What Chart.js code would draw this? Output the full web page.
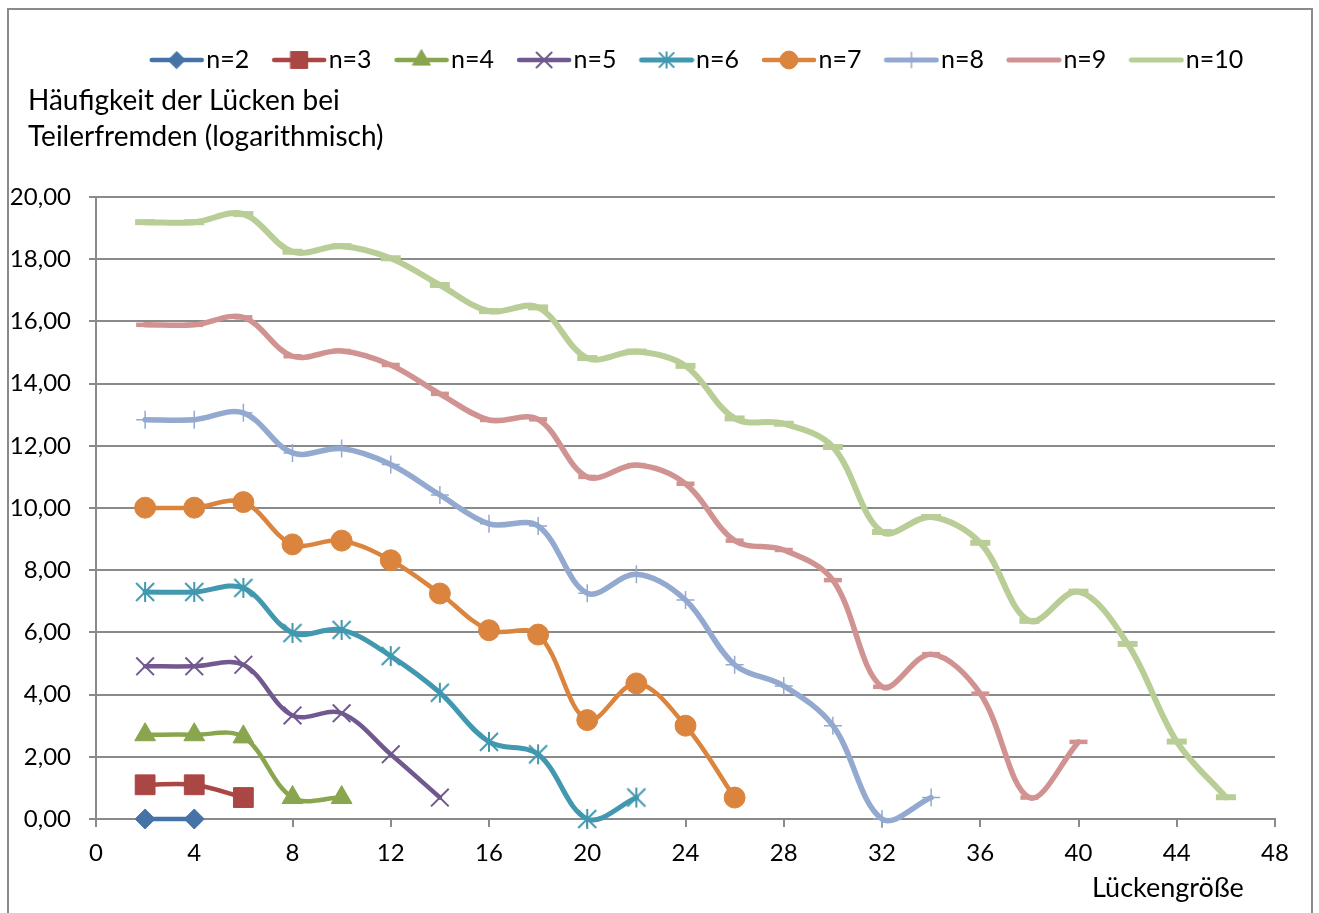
<!DOCTYPE html>
<html>
<head>
<meta charset="utf-8">
<script src="https://cdn.jsdelivr.net/npm/chart.js@4.4.0/dist/chart.umd.min.js"></script>
<style>
html,body{margin:0;padding:0;background:#fff;}
#wrap{width:1319px;height:913px;position:relative;overflow:hidden;}
canvas{display:block;}
</style>
</head>
<body>
<div id="wrap"><canvas id="c" width="1319" height="913"></canvas></div>
<script>
// ---- data ----
const gaps = [2,4,6,8,10,12,14,16,18,20,22,24,26,28,30,32,34,36,38,40,42,44,46];
const seriesLabels = ['n=2','n=3','n=4','n=5','n=6','n=7','n=8','n=9','n=10'];
const n2  = [0.00, 0.00];
const n3  = [1.10, 1.10, 0.69];
const n4  = [2.71, 2.71, 2.64, 0.69, 0.69];
const n5  = [4.91, 4.91, 4.96, 3.33, 3.40, 2.08, 0.69];
const n6  = [7.30, 7.30, 7.43, 5.98, 6.08, 5.24, 4.06, 2.48, 2.08, 0.00, 0.69];
const n7  = [10.01, 10.01, 10.19, 8.83, 8.95, 8.32, 7.25, 6.07, 5.93, 3.18, 4.36, 3.00, 0.69];
const n8  = [12.84, 12.84, 13.06, 11.77, 11.91, 11.40, 10.42, 9.49, 9.42, 7.26, 7.87, 7.04, 4.96, 4.28, 3.00, 0.00, 0.69];
const n9  = [15.89, 15.89, 16.13, 14.88, 15.05, 14.60, 13.67, 12.83, 12.85, 11.00, 11.38, 10.78, 8.95, 8.65, 7.68, 4.25, 5.30, 4.03, 0.69, 2.48];
const n10 = [19.19, 19.19, 19.45, 18.24, 18.42, 18.03, 17.17, 16.33, 16.45, 14.82, 15.03, 14.57, 12.88, 12.71, 11.96, 9.23, 9.71, 8.88, 6.37, 7.31, 5.63, 2.49, 0.70];
const seriesValues = [n2, n3, n4, n5, n6, n7, n8, n9, n10];
const xTickValues = [0,4,8,12,16,20,24,28,32,36,40,44,48];
const yTickValues = [0,2,4,6,8,10,12,14,16,18,20];
const yAxisTitle = ['Häufigkeit der Lücken bei', 'Teilerfremden (logarithmisch)'];
const xAxisTitle = 'Lückengröße';

// ---- styles ----
const colors = ['#4572A7','#AA4643','#89A54E','#71588F','#4198AF','#DB843D','#93A9CF','#D19392','#B9CD96'];
const lineW  = [4.5, 4.5, 4.5, 4.5, 5, 4.5, 5.5, 5.5, 6];
const FONT = 'Lato, "Open Sans", sans-serif';

function makeAsterisk(color, s) {
  const c = document.createElement('canvas');
  c.width = 26; c.height = 26;
  const g = c.getContext('2d');
  g.strokeStyle = color; g.lineWidth = 2;
  const m = 13, d = 9 * s, v = 10 * s;
  g.beginPath();
  g.moveTo(m - d, m - d); g.lineTo(m + d, m + d);
  g.moveTo(m + d, m - d); g.lineTo(m - d, m + d);
  g.moveTo(m, m - v); g.lineTo(m, m + v);
  g.stroke();
  return c;
}
const pStyles = ['rectRot','rect','triangle','crossRot', makeAsterisk(colors[4], 1),'circle','cross','line','line'];
const pRadius = [10, 14, 12, 12.5, 10, 10.5, 9, 9, 10];
const pBorder = [1, 1, 1, 2, 2, 1, 1.5, 4.5, 6];

function drawMarker(g, i, x, y, scale) {
  const st = pStyles[i];
  g.fillStyle = colors[i]; g.strokeStyle = colors[i]; g.lineWidth = pBorder[i];
  if (typeof st !== 'string') {
    const a = makeAsterisk(colors[i], scale);
    g.drawImage(a, x - 13, y - 13);
    return;
  }
  if (Chart.helpers && Chart.helpers.drawPoint) {
    Chart.helpers.drawPoint(g, {pointStyle: st, radius: pRadius[i] * scale, borderWidth: pBorder[i], rotation: 0}, x, y);
  }
}

const LEG_BOX = 66, LEG_W = 88;
function legendImage(i) {
  const W = LEG_W, H = 28;
  const c = document.createElement('canvas');
  c.width = W; c.height = H;
  const g = c.getContext('2d');
  g.strokeStyle = colors[i]; g.lineWidth = Math.min(lineW[i], 5); g.lineCap = 'round';
  g.beginPath(); g.moveTo(W - 56 + 3, H / 2); g.lineTo(W - 3, H / 2); g.stroke();
  if (i < 7) drawMarker(g, i, W - 28, H / 2, 0.85);
  return c;
}

const frame = {
  id: 'frame',
  afterLayout(chart) {
    if (chart.titleBlock) chart.titleBlock.left = 28;
  },
  beforeDraw(chart) {
    const g = chart.ctx;
    g.save();
    g.strokeStyle = '#8a8a8a'; g.lineWidth = 2;
    g.strokeRect(8, 9, 1304, 1000);
    g.restore();
  },
  afterDraw(chart) {
    const g = chart.ctx;
    g.save();
    g.fillStyle = '#000';
    g.font = '27px ' + FONT;
    g.textBaseline = 'middle';
    g.textAlign = 'left';
    g.fillText(xAxisTitle, 1092, 888);
    g.restore();
  }
};

const legendImgs = seriesLabels.map((_, i) => legendImage(i));

new Chart(document.getElementById('c'), {
  type: 'line',
  data: {
    datasets: seriesValues.map((vals, i) => ({
      label: seriesLabels[i],
      data: vals.map((v, j) => ({x: gaps[j], y: v})),
      borderColor: colors[i],
      backgroundColor: colors[i],
      borderWidth: lineW[i],
      pointStyle: pStyles[i],
      pointRadius: pRadius[i],
      pointBorderWidth: pBorder[i],
      pointBackgroundColor: colors[i],
      pointBorderColor: colors[i],
      tension: 0.35,
      clip: false,
      borderJoinStyle: 'round',
      borderCapStyle: 'round'
    }))
  },
  options: {
    responsive: false,
    animation: false,
    events: [],
    devicePixelRatio: 1,
    elements: { line: { capBezierPoints: false } },
    layout: { padding: { left: 0, right: 44, top: 46.5, bottom: 0 } },
    plugins: {
      tooltip: { enabled: false },
      legend: {
        position: 'top',
        fullSize: false,
        align: 'center',
        weight: 1000,
        labels: {
          usePointStyle: true,
          pointStyleWidth: LEG_BOX,
          padding: 1,
          color: '#000',
          font: { family: FONT, size: 25 },
          generateLabels(chart) {
            return chart.data.datasets.map((ds, i) => ({
              text: ds.label, pointStyle: legendImgs[i], fillStyle: colors[i],
              strokeStyle: colors[i], lineWidth: 0, hidden: false, datasetIndex: i, fontColor: '#000'
            }));
          }
        }
      },
      title: {
        display: true,
        text: yAxisTitle,
        align: 'start',
        position: 'top',
        weight: 500,
        color: '#000',
        font: { family: FONT, size: 28, weight: 'normal', lineHeight: '36px' },
        padding: { top: 0, bottom: 42.5 }
      }
    },
    scales: {
      x: {
        type: 'linear',
        min: 0, max: 48,
        afterBuildTicks(scale) { scale.ticks = xTickValues.map(v => ({value: v})); },
        afterFit(scale) { scale.height = 94; },
        ticks: { color: '#000', font: { family: FONT, size: 24 }, padding: 12, maxRotation: 0, autoSkip: false },
        grid: { display: true, drawOnChartArea: false, drawTicks: true, tickLength: 8, color: '#8a8a8a', lineWidth: 2 },
        border: { display: true, color: '#8a8a8a', width: 2 }
      },
      y: {
        type: 'linear',
        min: 0, max: 20,
        afterBuildTicks(scale) { scale.ticks = yTickValues.map(v => ({value: v})); },
        afterFit(scale) { scale.width = 96; },
        ticks: {
          color: '#000', font: { family: FONT, size: 24 }, padding: 18,
          callback: v => v.toFixed(2).replace('.', ',')
        },
        grid: { display: true, drawOnChartArea: true, drawTicks: true, tickLength: 7, color: '#8a8a8a', lineWidth: 2 },
        border: { display: true, color: '#8a8a8a', width: 2 }
      }
    }
  },
  plugins: [frame]
});
</script>
</body>
</html>
